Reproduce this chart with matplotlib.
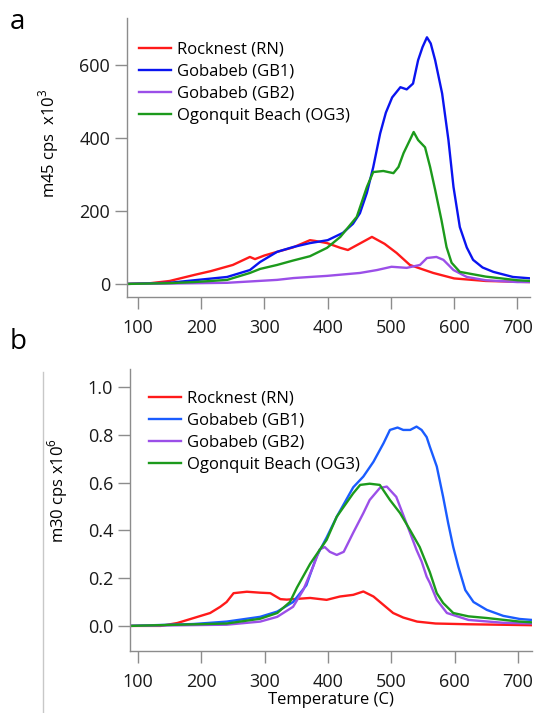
import matplotlib
matplotlib.use("Agg")
import matplotlib.pyplot as plt
from matplotlib.lines import Line2D

plt.rcParams["font.family"] = ["Open Sans", "DejaVu Sans"]
plt.rcParams["mathtext.fontset"] = "custom"
plt.rcParams["mathtext.rm"] = "Open Sans"

# panel a: m45
a_rn_t = [85, 120, 150, 190, 215, 250, 277, 285, 300, 320, 345, 372, 380, 399, 420, 432, 450, 470, 490, 509, 530, 550, 567, 600, 650, 722]
a_rn_v = [0, 2, 8, 25, 35, 52, 74, 68, 78, 88, 100, 120, 118, 112, 99, 93, 110, 129, 110, 85, 52, 40, 30, 15, 8, 5]

a_gb1_t = [85, 150, 189, 241, 277, 293, 320, 345, 372, 400, 424, 440, 451, 462, 472, 483, 492, 502, 515, 525, 535, 543, 550, 557, 563, 570, 581, 591, 599, 609, 620, 630, 645, 662, 693, 722]
a_gb1_v = [0, 3, 10, 19, 38, 60, 88, 101, 112, 120, 140, 165, 194, 250, 320, 413, 470, 512, 540, 534, 550, 614, 650, 677, 660, 614, 523, 395, 266, 156, 100, 66, 45, 33, 19, 15]

a_gb2_t = [85, 150, 200, 241, 320, 346, 372, 399, 451, 478, 501, 525, 546, 557, 572, 583, 599, 620, 650, 700, 722]
a_gb2_v = [0, 1, 2, 3, 11, 16, 19, 22, 30, 38, 47, 44, 52, 71, 74, 66, 38, 19, 10, 5, 5]

a_og3_t = [85, 150, 189, 241, 277, 293, 320, 345, 372, 399, 420, 446, 462, 472, 488, 504, 512, 520, 530, 536, 543, 554, 562, 570, 580, 588, 596, 609, 650, 700, 722]
a_og3_v = [0, 2, 5, 11, 30, 41, 52, 64, 76, 99, 129, 184, 266, 307, 310, 304, 321, 359, 395, 417, 395, 375, 321, 258, 175, 101, 58, 33, 20, 10, 8]

# panel b: m30
b_rn_t = [87, 136, 162, 188, 214, 230, 240, 251, 272, 293, 309, 325, 335, 372, 398, 419, 440, 456, 472, 503, 519, 541, 570, 620, 722]
b_rn_v = [0, 0, 0.012, 0.033, 0.054, 0.08, 0.10, 0.137, 0.143, 0.139, 0.137, 0.112, 0.11, 0.117, 0.109, 0.123, 0.13, 0.144, 0.123, 0.054, 0.035, 0.018, 0.01, 0.007, 0.003]

b_gb1_t = [87, 188, 240, 293, 320, 345, 366, 382, 398, 414, 440, 456, 472, 488, 498, 510, 519, 530, 540, 548, 556, 561, 572, 582, 590, 598, 606, 617, 630, 651, 677, 703, 722]
b_gb1_v = [0, 0.008, 0.018, 0.038, 0.06, 0.10, 0.17, 0.29, 0.37, 0.457, 0.58, 0.625, 0.687, 0.765, 0.82, 0.83, 0.82, 0.82, 0.834, 0.82, 0.79, 0.75, 0.667, 0.54, 0.43, 0.33, 0.248, 0.15, 0.10, 0.067, 0.042, 0.029, 0.025]

b_gb2_t = [87, 240, 293, 320, 345, 361, 377, 387, 395, 403, 414, 425, 440, 456, 466, 482, 493, 508, 524, 540, 548, 556, 561, 572, 588, 622, 677, 722]
b_gb2_v = [0, 0.005, 0.018, 0.038, 0.08, 0.15, 0.25, 0.32, 0.33, 0.31, 0.297, 0.31, 0.39, 0.472, 0.527, 0.577, 0.583, 0.54, 0.43, 0.318, 0.27, 0.206, 0.18, 0.109, 0.054, 0.025, 0.013, 0.01]

b_og3_t = [87, 240, 293, 320, 340, 351, 372, 387, 398, 414, 440, 451, 466, 482, 498, 514, 530, 545, 561, 572, 582, 598, 622, 651, 703, 722]
b_og3_v = [0, 0.01, 0.03, 0.054, 0.10, 0.16, 0.26, 0.318, 0.36, 0.457, 0.555, 0.59, 0.595, 0.59, 0.527, 0.472, 0.40, 0.33, 0.225, 0.137, 0.096, 0.054, 0.04, 0.033, 0.018, 0.015]

labels = ["Rocknest (RN)", "Gobabeb (GB1)", "Gobabeb (GB2)", "Ogonquit Beach (OG3)"]
x_ticks = [100, 200, 300, 400, 500, 600, 700]

RED = "#ff1a1a"
BLUE_A = "#0a14f0"
BLUE_B = "#1a5cff"
PURPLE = "#9b4fe8"
GREEN = "#1c9a1c"
GRAY = "#8c8c8c"


def style_axes(ax):
    for side in ["top", "right"]:
        ax.spines[side].set_visible(False)
    for side in ["left", "bottom"]:
        ax.spines[side].set_color(GRAY)
        ax.spines[side].set_linewidth(1.0)
    ax.tick_params(direction="out", length=8.6, width=1.0, color=GRAY,
                   labelsize=13, labelcolor="#1a1a1a")
    ax.tick_params(axis="x", pad=7)
    ax.tick_params(axis="y", pad=3.5)
    ax.set_xticks(x_ticks)


def add_legend(ax, x0, y0):
    ax.legend(loc="upper left", bbox_to_anchor=(x0, y0), frameon=False,
              fontsize=12, handlelength=1.9, handletextpad=0.38,
              labelspacing=0.36, borderaxespad=0, borderpad=0)


fig = plt.figure(figsize=(5.35, 7.13), dpi=100)
lw = 1.7

ax1 = fig.add_axes([127 / 535, 1 - 297 / 713, 403 / 535, 279 / 713])
ax1.plot(a_rn_t, a_rn_v, color=RED, lw=lw, label=labels[0])
ax1.plot(a_gb1_t, a_gb1_v, color=BLUE_A, lw=lw, label=labels[1])
ax1.plot(a_gb2_t, a_gb2_v, color=PURPLE, lw=lw, label=labels[2])
ax1.plot(a_og3_t, a_og3_v, color=GREEN, lw=lw, label=labels[3])
ax1.set_xlim(82.6, 720)
ax1.set_ylim(-36, 730)
ax1.set_yticks([0, 200, 400, 600])
style_axes(ax1)
ax1.set_ylabel("m45 cps  x10$^{3}$", fontsize=12)
ax1.yaxis.set_label_coords(-0.165, 0.55)
add_legend(ax1, (139 - 127) / 403, (297 - 42) / 279)

ax2 = fig.add_axes([130 / 535, 1 - 651 / 713, 402 / 535, 282 / 713])
ax2.plot(b_rn_t, b_rn_v, color=RED, lw=lw, label=labels[0])
ax2.plot(b_gb1_t, b_gb1_v, color=BLUE_B, lw=lw, label=labels[1])
ax2.plot(b_gb2_t, b_gb2_v, color=PURPLE, lw=lw, label=labels[2])
ax2.plot(b_og3_t, b_og3_v, color=GREEN, lw=lw, label=labels[3])
ax2.set_xlim(87.4, 722.4)
ax2.set_ylim(-0.105, 1.075)
ax2.set_yticks([0.0, 0.2, 0.4, 0.6, 0.8, 1.0])
ax2.set_yticklabels(["0.0", "0.2", "0.4", "0.6", "0.8", "1.0"])
style_axes(ax2)
ax2.set_ylabel("m30 cps x10$^{6}$", fontsize=12)
ax2.yaxis.set_label_coords(-0.15, 0.57)
ax2.set_xlabel("Temperature (C)", fontsize=12, labelpad=1)
add_legend(ax2, (149 - 130) / 402, (651 - 391) / 282)

fig.text(10 / 535, 1 - 22 / 713, "a", fontsize=20, va="center", ha="left")
fig.text(10 / 535, 1 - 342 / 713, "b", fontsize=20, va="center", ha="left")
fig.add_artist(Line2D([43 / 535, 43 / 535], [1 - 372 / 713, 0], color="#c8c8c8", lw=1.0))

fig.savefig("out.png", dpi=100)
